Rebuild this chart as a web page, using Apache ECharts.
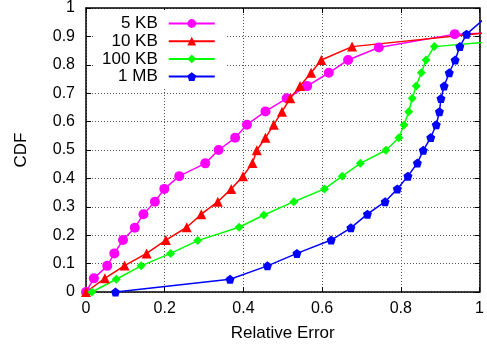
<!DOCTYPE html>
<html>
<head>
<meta charset="utf-8">
<script src="https://cdn.jsdelivr.net/npm/echarts@6/dist/echarts.min.js"></script>
<style>
  html, body { margin: 0; padding: 0; background: #fff; }
  #chart { width: 487px; height: 352px; }
</style>
</head>
<body>
<div id="chart"></div>
<script>
// Relative error (x) against cumulative fraction (y) for four object sizes.
// The last pair of each series lies past x = 1 and is clipped at the frame.
const seriesNames = ['5 KB', '10 KB', '100 KB', '1 MB'];

const err5KB = [0, 0.020, 0.054, 0.072, 0.094, 0.124, 0.146, 0.175, 0.199, 0.237, 0.303,
  0.337, 0.379, 0.409, 0.456, 0.510, 0.562, 0.617, 0.666, 0.744, 0.937, 1.1];
const cdf5KB = [0, 0.048, 0.092, 0.136, 0.183, 0.226, 0.274, 0.318, 0.363, 0.408, 0.453,
  0.500, 0.543, 0.589, 0.636, 0.682, 0.725, 0.772, 0.817, 0.861, 0.908, 0.915];

const err10KB = [0, 0.048, 0.098, 0.154, 0.203, 0.256, 0.293, 0.335, 0.369, 0.399, 0.423,
  0.434, 0.456, 0.477, 0.498, 0.519, 0.544, 0.572, 0.598, 0.676, 1.1];
const cdf10KB = [0, 0.048, 0.093, 0.136, 0.183, 0.228, 0.274, 0.318, 0.363, 0.408, 0.454,
  0.499, 0.543, 0.589, 0.635, 0.682, 0.725, 0.772, 0.817, 0.864, 0.925];

const err100KB = [0.015, 0.077, 0.140, 0.215, 0.284, 0.389, 0.452, 0.528, 0.606, 0.651, 0.697,
  0.762, 0.795, 0.808, 0.820, 0.829, 0.839, 0.852, 0.864, 0.885, 1.1];
const cdf100KB = [0, 0.045, 0.092, 0.136, 0.181, 0.228, 0.271, 0.318, 0.363, 0.408, 0.453,
  0.499, 0.543, 0.588, 0.635, 0.682, 0.725, 0.772, 0.817, 0.864, 0.890];

const err1MB = [0.075, 0.366, 0.461, 0.536, 0.623, 0.673, 0.715, 0.760, 0.791, 0.818, 0.842,
  0.857, 0.876, 0.890, 0.898, 0.902, 0.910, 0.923, 0.938, 0.950, 0.967, 1.03];
const cdf1MB = [0, 0.045, 0.092, 0.136, 0.183, 0.226, 0.274, 0.318, 0.363, 0.408, 0.454,
  0.499, 0.544, 0.589, 0.635, 0.681, 0.725, 0.772, 0.817, 0.864, 0.908, 0.984];

const xTicks = [0, 0.2, 0.4, 0.6, 0.8, 1];
const yTicks = [0, 0.1, 0.2, 0.3, 0.4, 0.5, 0.6, 0.7, 0.8, 0.9, 1];

const FONT = '"Liberation Sans", Arial, Helvetica, sans-serif';
const pentagon = 'path://M0,-10 L9.51,-3.09 L5.88,8.09 L-5.88,8.09 L-9.51,-3.09 Z';
const squareDiamond = 'path://M0,-10 L10,0 L0,10 L-10,0 Z';

function pairs(xs, ys) {
  return xs.map((x, i) => [x, ys[i]]);
}

function makeSeries(name, xs, ys, color, symbol, size) {
  return {
    name: name,
    type: 'line',
    data: pairs(xs, ys),
    symbol: symbol,
    symbolSize: size,
    showAllSymbol: true,
    clip: true,
    lineStyle: { color: color, width: 1.5 },
    itemStyle: { color: color },
    emphasis: { disabled: true }
  };
}

const frameLine = { show: true, onZero: false, lineStyle: { color: '#000', width: 1.5 } };
const innerTick = { show: true, inside: true, length: 5, lineStyle: { color: '#000', width: 1 } };
const gridDots = { show: true, lineStyle: { color: '#555', width: 1, type: [1, 2] } };

const chart = echarts.init(document.getElementById('chart'), null, { renderer: 'canvas' });
chart.setOption({
  animation: false,
  backgroundColor: '#fff',
  textStyle: { fontFamily: FONT },
  grid: { left: 86, right: 3, top: 8, bottom: 60, containLabel: false },
  legend: {
    orient: 'vertical',
    left: 95,
    top: 10,
    align: 'right',
    selectedMode: false,
    itemWidth: 46,
    itemHeight: 11,
    itemGap: 0.7,
    padding: [5, 10, 2, 7],
    backgroundColor: '#fff',
    data: seriesNames,
    textStyle: { fontFamily: FONT, fontSize: 17, color: '#000', lineHeight: 16, padding: [0, 6, 0, 0] }
  },
  xAxis: [
    {
      type: 'value', min: xTicks[0], max: xTicks[xTicks.length - 1], interval: xTicks[1] - xTicks[0],
      position: 'bottom',
      name: 'Relative Error', nameLocation: 'middle', nameGap: 33,
      nameTextStyle: { fontFamily: FONT, fontSize: 17, color: '#000' },
      axisLine: frameLine, axisTick: innerTick, splitLine: gridDots,
      axisLabel: { fontFamily: FONT, fontSize: 16, color: '#000', margin: 9,
        formatter: v => String(v) }
    },
    {
      type: 'value', min: xTicks[0], max: xTicks[xTicks.length - 1], interval: xTicks[1] - xTicks[0],
      position: 'top',
      axisLine: frameLine, axisTick: innerTick, splitLine: { show: false },
      axisLabel: { show: false }
    }
  ],
  yAxis: [
    {
      type: 'value', min: yTicks[0], max: yTicks[yTicks.length - 1], interval: yTicks[1] - yTicks[0],
      position: 'left',
      name: 'CDF', nameLocation: 'middle', nameGap: 56, nameRotate: 90,
      nameTextStyle: { fontFamily: FONT, fontSize: 17, color: '#000' },
      axisLine: frameLine, axisTick: innerTick, splitLine: gridDots,
      axisLabel: { fontFamily: FONT, fontSize: 16, color: '#000', margin: 11,
        formatter: v => String(Math.round(v * 10) / 10) }
    },
    {
      type: 'value', min: yTicks[0], max: yTicks[yTicks.length - 1], interval: yTicks[1] - yTicks[0],
      position: 'right',
      axisLine: frameLine, axisTick: innerTick, splitLine: { show: false },
      axisLabel: { show: false }
    }
  ],
  series: [
    makeSeries(seriesNames[0], err5KB, cdf5KB, '#ff00ff', 'circle', 10),
    makeSeries(seriesNames[1], err10KB, cdf10KB, '#ff0000', 'triangle', 10),
    makeSeries(seriesNames[2], err100KB, cdf100KB, '#00ff00', squareDiamond, 9),
    makeSeries(seriesNames[3], err1MB, cdf1MB, '#0000ff', pentagon, 9)
  ]
});
</script>
</body>
</html>
